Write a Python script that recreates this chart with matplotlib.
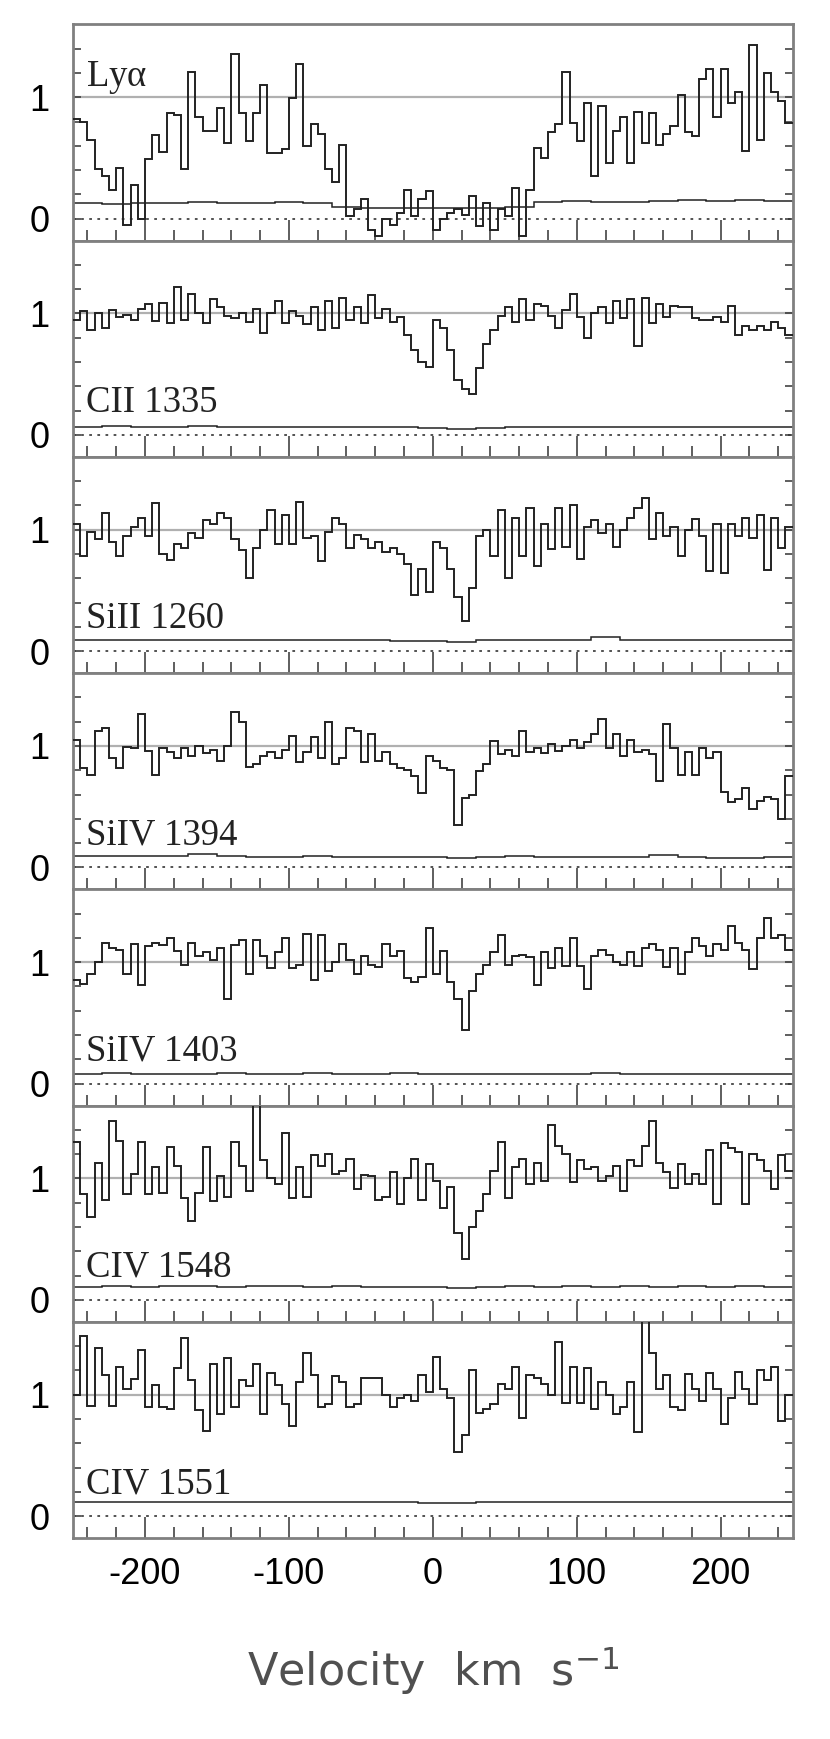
"""
Stacked absorption-line velocity plot: normalised flux vs velocity for
Lya and six metal lines, with the error spectrum under each one.
"""
import numpy as np
import matplotlib
matplotlib.use("Agg")
import matplotlib.pyplot as plt
from matplotlib.ticker import MultipleLocator, FixedLocator


# 5 km/s bins from -250 to +250 km/s
VEL_EDGES = np.arange(-250, 251, 5)
# coarser grid for the error spectra (20 km/s)
ERR_EDGES = np.arange(-250, 251, 20)

LABELS = ["Ly$\\alpha$", "CII 1335", "SiII 1260", "SiIV 1394",
          "SiIV 1403", "CIV 1548", "CIV 1551"]

FLUX_LYA = [
    0.82, 0.80, 0.65, 0.41, 0.35, 0.24, 0.42, -0.05, 0.28, 0.00,
    0.49, 0.69, 0.55, 0.87, 0.85, 0.41, 1.21, 0.84, 0.72, 0.72,
    0.91, 0.62, 1.36, 0.87, 0.64, 0.87, 1.10, 0.54, 0.54, 0.57,
    0.99, 1.27, 0.60, 0.78, 0.70, 0.41, 0.30, 0.61, 0.02, 0.08,
    0.16, -0.09, -0.14, 0.00, -0.05, 0.05, 0.24, 0.02, 0.16, 0.23,
    -0.09, 0.00, 0.05, 0.08, 0.03, 0.19, -0.06, 0.13, -0.09, 0.08,
    0.02, 0.25, -0.14, 0.24, 0.58, 0.50, 0.71, 0.78, 1.21, 0.79,
    0.64, 0.95, 0.35, 0.93, 0.46, 0.72, 0.84, 0.46, 0.88, 0.62,
    0.87, 0.61, 0.70, 0.76, 1.02, 0.71, 0.68, 1.15, 1.23, 0.84,
    1.23, 0.95, 1.04, 0.56, 1.43, 0.65, 1.20, 1.04, 0.97, 0.79,
]
FLUX_CII = [
    0.95, 1.02, 0.86, 1.00, 0.88, 1.03, 0.97, 0.99, 0.95, 1.04,
    1.08, 0.94, 1.09, 0.92, 1.22, 0.95, 1.16, 1.00, 0.92, 1.12,
    1.05, 0.98, 0.96, 1.00, 0.93, 1.04, 0.84, 1.00, 1.10, 0.92,
    1.02, 0.98, 0.91, 1.05, 0.86, 1.10, 0.88, 1.13, 0.95, 1.05,
    0.92, 1.15, 0.96, 1.04, 0.93, 0.97, 0.82, 0.70, 0.60, 0.56,
    0.95, 0.88, 0.70, 0.45, 0.38, 0.34, 0.55, 0.75, 0.86, 0.98,
    1.05, 0.93, 1.12, 0.95, 1.08, 1.06, 0.98, 0.88, 1.03, 1.16,
    0.97, 0.80, 1.00, 1.05, 0.92, 1.10, 0.96, 1.12, 0.73, 1.13,
    0.92, 1.08, 0.97, 1.06, 1.05, 1.05, 0.96, 0.95, 0.95, 0.97,
    0.93, 1.06, 0.82, 0.90, 0.86, 0.90, 0.86, 0.93, 0.88, 0.82,
]
FLUX_SIII = [
    1.05, 0.78, 0.98, 0.92, 1.14, 0.90, 0.78, 0.95, 1.02, 1.10,
    0.95, 1.22, 0.80, 0.75, 0.88, 0.85, 0.97, 0.93, 1.08, 1.05,
    1.14, 1.10, 0.92, 0.83, 0.60, 0.85, 1.00, 1.16, 0.88, 1.12,
    0.88, 1.23, 0.93, 0.95, 0.74, 0.98, 1.10, 1.05, 0.85, 0.96,
    0.92, 0.85, 0.90, 0.82, 0.85, 0.80, 0.72, 0.46, 0.68, 0.49,
    0.90, 0.85, 0.68, 0.45, 0.25, 0.52, 0.95, 1.00, 0.78, 1.16,
    0.60, 1.10, 0.78, 1.18, 0.70, 1.05, 0.84, 1.18, 0.86, 1.20,
    0.76, 1.02, 1.08, 0.97, 1.05, 0.86, 1.00, 1.10, 1.18, 1.26,
    0.92, 1.14, 0.95, 1.02, 0.78, 1.00, 1.09, 0.95, 0.66, 1.05,
    0.64, 1.05, 0.95, 1.10, 0.93, 1.12, 0.67, 1.10, 0.85, 1.02,
]
FLUX_SIIV1394 = [
    1.05, 0.82, 0.76, 1.12, 1.15, 0.90, 0.82, 0.99, 0.98, 1.26,
    0.96, 0.76, 0.98, 0.95, 0.90, 0.98, 0.92, 1.00, 0.94, 0.97,
    0.88, 1.00, 1.28, 1.20, 0.83, 0.85, 0.92, 0.95, 0.90, 0.97,
    1.08, 0.87, 0.95, 1.07, 0.90, 1.20, 0.85, 0.90, 1.15, 1.12,
    0.87, 1.10, 0.88, 0.95, 0.85, 0.82, 0.80, 0.75, 0.61, 0.92,
    0.88, 0.82, 0.80, 0.35, 0.57, 0.60, 0.79, 0.85, 1.04, 0.93,
    0.97, 0.92, 1.12, 0.95, 0.98, 0.94, 1.02, 0.96, 1.00, 1.05,
    0.98, 1.03, 1.10, 1.22, 0.98, 1.10, 0.92, 1.05, 0.95, 0.97,
    0.93, 0.71, 1.18, 0.98, 0.76, 0.95, 0.76, 0.98, 0.90, 0.95,
    0.62, 0.54, 0.56, 0.65, 0.48, 0.55, 0.58, 0.56, 0.40, 0.75,
]
FLUX_SIIV1403 = [
    0.85, 0.82, 0.90, 1.00, 1.16, 1.12, 1.10, 0.90, 1.15, 0.81,
    1.13, 1.16, 1.14, 1.20, 1.09, 0.98, 1.16, 1.05, 1.08, 1.02,
    1.12, 0.70, 1.14, 1.18, 0.90, 1.18, 1.05, 0.95, 1.08, 1.20,
    0.95, 0.98, 1.23, 0.85, 1.22, 0.93, 1.00, 1.15, 1.02, 0.90,
    1.05, 0.98, 0.96, 1.15, 1.05, 1.09, 0.87, 0.84, 0.88, 1.28,
    0.90, 1.09, 0.84, 0.70, 0.44, 0.76, 0.90, 0.98, 1.08, 1.22,
    0.98, 1.05, 1.06, 1.04, 0.81, 1.08, 0.95, 1.12, 0.97, 1.20,
    0.97, 0.78, 1.05, 1.10, 1.06, 1.00, 0.98, 1.08, 0.97, 1.12,
    1.15, 1.10, 0.96, 1.12, 0.90, 1.08, 1.20, 1.13, 1.05, 1.15,
    1.10, 1.30, 1.16, 1.10, 0.94, 1.20, 1.36, 1.20, 1.22, 1.10,
]
FLUX_CIV1548 = [
    1.30, 0.87, 0.68, 1.13, 0.82, 1.47, 1.31, 0.87, 1.04, 1.30,
    0.87, 1.09, 0.88, 1.26, 1.10, 0.84, 0.65, 0.88, 1.26, 0.81,
    1.02, 0.85, 1.30, 1.10, 0.90, 1.70, 1.15, 1.00, 0.95, 1.37,
    0.84, 1.09, 0.85, 1.19, 1.10, 1.20, 1.04, 1.06, 1.16, 0.91,
    1.03, 1.02, 0.82, 0.85, 1.05, 0.79, 1.00, 1.16, 0.82, 1.12,
    0.98, 0.76, 0.93, 0.55, 0.34, 0.60, 0.73, 0.87, 1.06, 1.30,
    0.84, 1.09, 1.16, 0.95, 1.13, 0.98, 1.44, 1.27, 1.20, 0.97,
    1.15, 1.08, 1.09, 0.98, 1.02, 1.10, 0.90, 1.15, 1.10, 1.27,
    1.47, 1.13, 1.05, 0.92, 1.12, 0.95, 1.04, 0.95, 1.23, 0.79,
    1.29, 1.25, 1.22, 0.79, 1.20, 1.15, 1.06, 0.91, 1.19, 1.06,
]
FLUX_CIV1551 = [
    1.00, 1.48, 0.91, 1.38, 1.16, 0.91, 1.23, 1.05, 1.13, 1.37,
    0.90, 1.08, 0.90, 0.88, 1.22, 1.47, 1.12, 0.87, 0.70, 1.25,
    0.84, 1.30, 0.90, 1.12, 1.07, 1.25, 0.84, 1.18, 1.08, 0.92,
    0.74, 1.10, 1.34, 1.16, 0.90, 0.92, 1.15, 1.10, 0.90, 0.92,
    1.14, 1.14, 1.14, 1.00, 0.90, 0.97, 1.00, 0.95, 1.16, 1.02,
    1.31, 1.05, 0.97, 0.53, 0.67, 1.20, 0.85, 0.88, 0.92, 1.09,
    1.05, 1.23, 0.81, 1.16, 1.14, 1.09, 1.00, 1.43, 0.93, 1.23,
    0.93, 1.22, 0.88, 1.10, 1.00, 0.84, 0.90, 1.10, 0.69, 1.70,
    1.34, 1.05, 1.16, 0.90, 0.87, 1.17, 1.05, 0.95, 1.18, 1.05,
    0.76, 0.97, 1.19, 1.05, 0.92, 1.20, 1.12, 1.23, 0.78, 1.00,
]

ERR_LYA = [0.13, 0.12, 0.13, 0.13, 0.14, 0.13, 0.13, 0.14, 0.13, 0.10,
           0.09, 0.09, 0.085, 0.09, 0.09, 0.10, 0.14, 0.145, 0.14, 0.14,
           0.145, 0.15, 0.145, 0.15, 0.145]
ERR_CII = [0.065, 0.07, 0.065, 0.068, 0.07, 0.066, 0.065, 0.068, 0.065, 0.064,
           0.066, 0.063, 0.06, 0.05, 0.06, 0.064, 0.066, 0.065, 0.067, 0.065,
           0.066, 0.064, 0.066, 0.065, 0.067]
ERR_SIII = [0.09, 0.092, 0.09, 0.095, 0.093, 0.09, 0.094, 0.092, 0.09, 0.088,
            0.09, 0.087, 0.085, 0.075, 0.088, 0.092, 0.094, 0.095, 0.115, 0.09,
            0.088, 0.09, 0.092, 0.088, 0.09]
ERR_SIIV1394 = [0.09, 0.09, 0.092, 0.095, 0.11, 0.09, 0.088, 0.087, 0.092, 0.087,
                0.085, 0.085, 0.082, 0.075, 0.085, 0.09, 0.088, 0.088, 0.087, 0.086,
                0.10, 0.085, 0.08, 0.08, 0.082]
ERR_SIIV1403 = [0.08, 0.085, 0.082, 0.08, 0.083, 0.085, 0.08, 0.082, 0.084, 0.08,
                0.082, 0.085, 0.083, 0.078, 0.08, 0.083, 0.082, 0.08, 0.084, 0.082,
                0.08, 0.083, 0.081, 0.08, 0.082]
ERR_CIV1548 = [0.11, 0.115, 0.11, 0.112, 0.115, 0.11, 0.113, 0.115, 0.11, 0.112,
               0.108, 0.11, 0.105, 0.095, 0.108, 0.112, 0.11, 0.113, 0.11, 0.112,
               0.11, 0.114, 0.11, 0.112, 0.11]
ERR_CIV1551 = [0.115, 0.12, 0.115, 0.118, 0.115, 0.117, 0.114, 0.118, 0.115, 0.116,
               0.114, 0.115, 0.11, 0.105, 0.112, 0.116, 0.115, 0.117, 0.114, 0.116,
               0.115, 0.118, 0.115, 0.116, 0.115]

FLUXES = [FLUX_LYA, FLUX_CII, FLUX_SIII, FLUX_SIIV1394,
          FLUX_SIIV1403, FLUX_CIV1548, FLUX_CIV1551]
ERRORS = [ERR_LYA, ERR_CII, ERR_SIII, ERR_SIIV1394,
          ERR_SIIV1403, ERR_CIV1548, ERR_CIV1551]

FRAME_COLOR = "#808080"
LINE_COLOR = "#222222"

plt.rcParams["mathtext.fontset"] = "stix"
plt.rcParams["mathtext.default"] = "regular"
plt.rcParams["axes.unicode_minus"] = False

fig, axes = plt.subplots(7, 1, sharex=True, figsize=(8.3, 17.39), dpi=100)
fig.subplots_adjust(left=0.088, right=0.955, top=0.986, bottom=0.1156, hspace=0)

for i, ax in enumerate(axes):
    ax.axhline(1.0, color="#b0b0b0", lw=1.6, zorder=1)
    ax.axhline(0.0, color="#444444", lw=1.3, ls=(0, (1.5, 3.0)), zorder=1)
    ax.stairs(ERRORS[i], ERR_EDGES, baseline=None, color=LINE_COLOR, lw=1.1, zorder=2)
    ax.stairs(FLUXES[i], VEL_EDGES, baseline=None, color=LINE_COLOR, lw=1.4, zorder=3)

    ax.set_xlim(-250, 250)
    ax.set_ylim(-0.18, 1.6)

    for sp in ax.spines.values():
        sp.set_color(FRAME_COLOR)
        sp.set_linewidth(2.0)

    # velocity ticks: bottom only, pointing in
    ax.xaxis.set_major_locator(FixedLocator([-200, -100, 0, 100, 200]))
    ax.xaxis.set_minor_locator(MultipleLocator(20))
    ax.tick_params(axis="x", which="major", direction="in", length=15, width=1.1,
                   color="#333333", top=False, bottom=True, pad=14,
                   labelsize=26)
    ax.tick_params(axis="x", which="minor", direction="in", length=8, width=1.1,
                   color="#333333", top=False, bottom=True)

    # flux ticks: both sides, labelled only at 0 and 1
    ax.yaxis.set_major_locator(FixedLocator([0, 1]))
    ax.yaxis.set_minor_locator(FixedLocator([0.2, 0.4, 0.6, 0.8, 1.2, 1.4]))
    ax.tick_params(axis="y", which="both", direction="in", length=6, width=1.1,
                   color="#333333", left=True, right=True, pad=17, labelsize=26)
    ax.set_yticklabels(["0", "1"], family=["Liberation Sans", "DejaVu Sans"])

    label_y = 1.09 if i == 0 else 0.19
    ax.text(-241, label_y, LABELS[i], fontsize=26.5, family="Liberation Serif",
            color="#222222", va="baseline", ha="left", zorder=4)

for ax in axes[:-1]:
    ax.tick_params(axis="x", labelbottom=False)

bottom = axes[-1]
for lab in bottom.get_xticklabels():
    lab.set_family(["Liberation Sans", "DejaVu Sans"])
bottom.set_xlabel("Velocity  km  s$^{-1}$", fontsize=32, color="#505050",
                  family="DejaVu Sans", labelpad=37)

plt.savefig("out.png", dpi=100)
